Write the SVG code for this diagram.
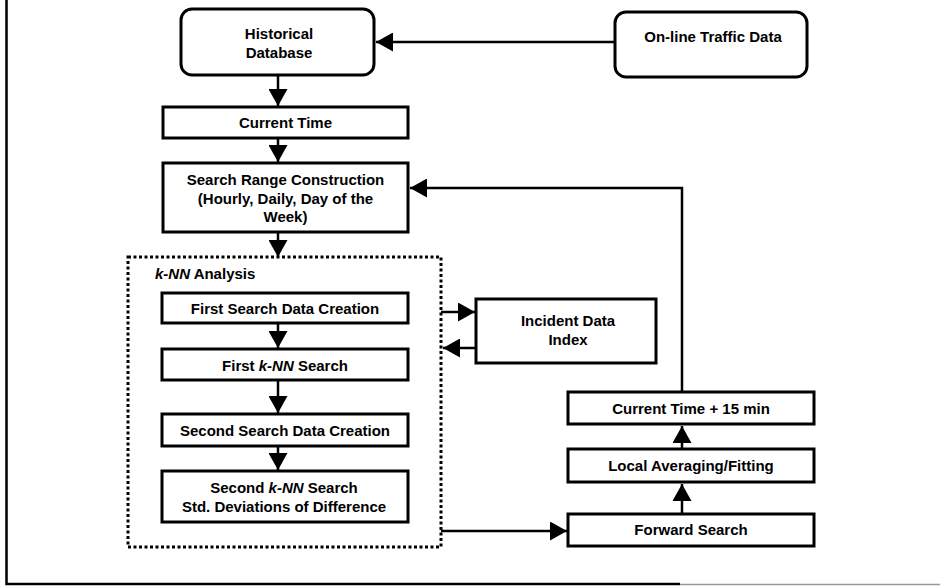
<svg xmlns="http://www.w3.org/2000/svg" width="951" height="586" viewBox="0 0 951 586">
<defs>
<marker id="ah" viewBox="0 0 17 19" refX="17" refY="9.5" markerWidth="17" markerHeight="19" orient="auto" markerUnits="userSpaceOnUse">
<path d="M0,0 L17,9.5 L0,19 z" fill="#000"/>
</marker>
<style>
.box{fill:#fff;stroke:#000;stroke-width:3}
.dot{fill:none;stroke:#000;stroke-width:3;stroke-dasharray:3 2.5}
.frame{fill:none;stroke:#000;stroke-width:2.5}
.fade{fill:none;stroke:#999;stroke-width:1.5}
.con{fill:none;stroke:#000;stroke-width:2.5}
text{font-family:"Liberation Sans",Arial,sans-serif;font-weight:bold;font-size:15px;fill:#000}
.c{text-anchor:middle}
.i{font-style:italic}
</style>
</defs>
<rect width="951" height="586" fill="#fff"/>
<path class="frame" d="M6.5,0 L6.5,584 L680,584"/>
<path class="fade" d="M680,584.5 L940,584.5"/>

<g id="historical-database">
<rect class="box" x="181" y="9" width="193" height="66" rx="11"/>
<text class="c" x="279" y="39">Historical</text>
<text class="c" x="279" y="57.5">Database</text>
</g>
<g id="online-traffic-data">
<rect class="box" x="615" y="12" width="192" height="65" rx="11"/>
<text class="c" x="713" y="42">On-line Traffic Data</text>
</g>
<g id="current-time">
<rect class="box" x="163" y="107" width="245" height="31"/>
<text class="c" x="285.5" y="128">Current Time</text>
</g>
<g id="search-range">
<rect class="box" x="163" y="163" width="245" height="69"/>
<text class="c" x="285.5" y="185">Search Range Construction</text>
<text class="c" x="285.5" y="203.5">(Hourly, Daily, Day of the</text>
<text class="c" x="285.5" y="221.5">Week)</text>
</g>
<g id="knn-analysis">
<rect class="dot" x="128" y="257" width="313" height="290"/>
<text x="155" y="279"><tspan class="i">k-NN</tspan> Analysis</text>
</g>
<g id="first-search-data">
<rect class="box" x="162" y="293" width="246" height="30"/>
<text class="c" x="285" y="314">First Search Data Creation</text>
</g>
<g id="first-knn">
<rect class="box" x="162" y="349" width="246" height="31"/>
<text class="c" x="285" y="371">First <tspan class="i">k-NN</tspan> Search</text>
</g>
<g id="second-search-data">
<rect class="box" x="162" y="414" width="246" height="32"/>
<text class="c" x="285" y="436">Second Search Data Creation</text>
</g>
<g id="second-knn">
<rect class="box" x="162" y="471" width="246" height="51"/>
<text class="c" x="284" y="493">Second <tspan class="i">k-NN</tspan> Search</text>
<text class="c" x="284" y="512">Std. Deviations of Difference</text>
</g>
<g id="incident-data-index">
<rect class="box" x="476" y="299" width="180" height="64"/>
<text class="c" x="568" y="326">Incident Data</text>
<text class="c" x="568" y="345">Index</text>
</g>
<g id="current-time-15">
<rect class="box" x="568" y="392" width="246" height="32"/>
<text class="c" x="691" y="414">Current Time + 15 min</text>
</g>
<g id="local-averaging">
<rect class="box" x="568" y="449" width="246" height="33"/>
<text class="c" x="691" y="471">Local Averaging/Fitting</text>
</g>
<g id="forward-search">
<rect class="box" x="568" y="514" width="246" height="32"/>
<text class="c" x="691" y="535">Forward Search</text>
</g>

<g id="connectors">
<path class="con" d="M615,42 L376,42" marker-end="url(#ah)"/>
<path class="con" d="M278,76 L278,106" marker-end="url(#ah)"/>
<path class="con" d="M278,139 L278,162" marker-end="url(#ah)"/>
<path class="con" d="M278,233 L278,257" marker-end="url(#ah)"/>
<path class="con" d="M278,324 L278,348" marker-end="url(#ah)"/>
<path class="con" d="M278,381 L278,413" marker-end="url(#ah)"/>
<path class="con" d="M278,447 L278,470" marker-end="url(#ah)"/>
<path class="con" d="M441,312 L475,312" marker-end="url(#ah)"/>
<path class="con" d="M476,348 L443,348" marker-end="url(#ah)"/>
<path class="con" d="M441,531 L567,531" marker-end="url(#ah)"/>
<path class="con" d="M682,513 L682,484" marker-end="url(#ah)"/>
<path class="con" d="M682,448 L682,426" marker-end="url(#ah)"/>
<path class="con" d="M682,391 L682,188 L410,188" marker-end="url(#ah)"/>
</g>
</svg>
